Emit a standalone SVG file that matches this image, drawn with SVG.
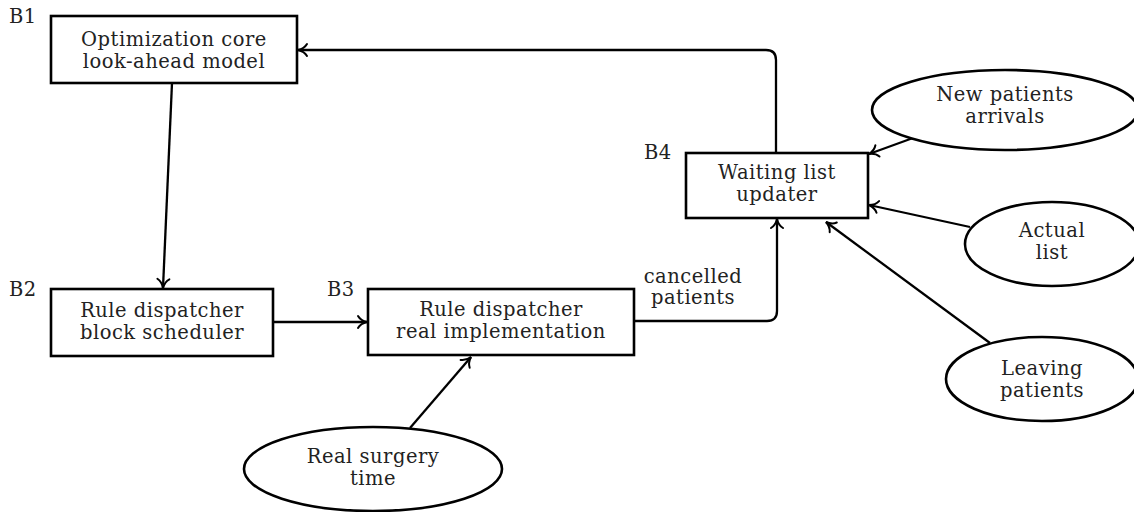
<svg xmlns="http://www.w3.org/2000/svg" width="1134" height="512" viewBox="0 0 1134 512">
<style>
  .box { fill: #fff; stroke: #000; stroke-width: 2.6; }
  .ell { fill: #fff; stroke: #000; stroke-width: 2.6; }
  .t { font-family: "DejaVu Serif", "Liberation Serif", serif; font-size: 19.5px; letter-spacing: 0.5px; fill: #222; text-anchor: middle; }
  .lbl { font-family: "DejaVu Serif", "Liberation Serif", serif; font-size: 19.5px; letter-spacing: 0.5px; fill: #222; }
  .c { fill: none; stroke: #000; stroke-width: 2.3; marker-end: url(#arr); }
</style>
<defs>
  <marker id="arr" markerUnits="userSpaceOnUse" viewBox="-13 -8 16 16" markerWidth="16" markerHeight="16" refX="0" refY="0" orient="auto">
    <path d="M-9,-6 C-7,-2.5 -2.5,-0.6 0,0 C-2.5,0.6 -7,2.5 -9,6" fill="none" stroke="#000" stroke-width="2" stroke-linecap="round"/>
  </marker>
</defs>
<g id="connectors">
  <path class="c" d="M172,83 L163,288"/>
  <path class="c" d="M273,322 L367,322"/>
  <path class="c" d="M634,321 H767 Q777,321 777,311 V219"/>
  <path class="c" d="M776,153 V60 Q776,50 766,50 H298"/>
  <path class="c" d="M913,138 L869,154"/>
  <path class="c" d="M970,227 L869,205"/>
  <path class="c" d="M990,343 L826,222"/>
  <path class="c" d="M410,428 L471,357"/>
  <text class="t" x="693" y="283">cancelled</text>
  <text class="t" x="693" y="304">patients</text>
</g>
<g id="B1">
  <rect class="box" x="51" y="16" width="246" height="67"/>
  <text class="lbl" x="9" y="23">B1</text>
  <text class="t" x="174" y="46">Optimization core</text>
  <text class="t" x="174" y="68">look-ahead model</text>
</g>
<g id="B2">
  <rect class="box" x="51" y="289" width="222" height="67"/>
  <text class="lbl" x="9" y="296">B2</text>
  <text class="t" x="162" y="317">Rule dispatcher</text>
  <text class="t" x="162" y="339">block scheduler</text>
</g>
<g id="B3">
  <rect class="box" x="368" y="289" width="266" height="66"/>
  <text class="lbl" x="327" y="296">B3</text>
  <text class="t" x="501" y="316">Rule dispatcher</text>
  <text class="t" x="501" y="338">real implementation</text>
</g>
<g id="B4">
  <rect class="box" x="686" y="153" width="182" height="65"/>
  <text class="lbl" x="644" y="159">B4</text>
  <text class="t" x="777" y="179">Waiting list</text>
  <text class="t" x="777" y="201">updater</text>
</g>
<g id="new-patients">
  <ellipse class="ell" cx="1005" cy="110" rx="133" ry="40"/>
  <text class="t" x="1005" y="101">New patients</text>
  <text class="t" x="1005" y="123">arrivals</text>
</g>
<g id="actual-list">
  <ellipse class="ell" cx="1052" cy="244" rx="87" ry="42"/>
  <text class="t" x="1052" y="237">Actual</text>
  <text class="t" x="1052" y="259">list</text>
</g>
<g id="leaving-patients">
  <ellipse class="ell" cx="1042" cy="379" rx="96" ry="42"/>
  <text class="t" x="1042" y="375">Leaving</text>
  <text class="t" x="1042" y="397">patients</text>
</g>
<g id="real-surgery">
  <ellipse class="ell" cx="373" cy="469" rx="129" ry="42"/>
  <text class="t" x="373" y="463">Real surgery</text>
  <text class="t" x="373" y="485">time</text>
</g>
</svg>
